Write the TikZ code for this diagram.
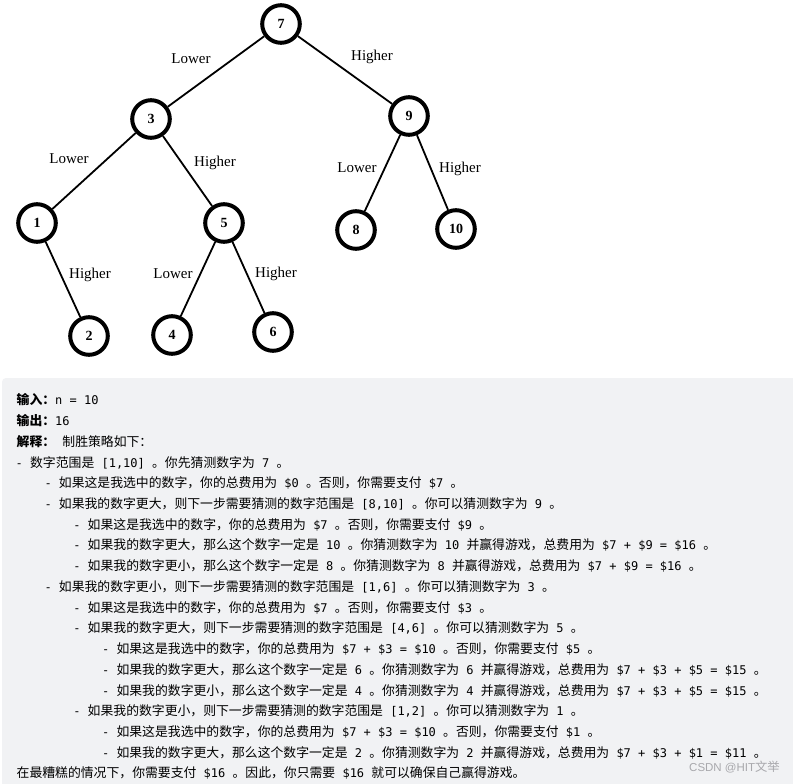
\documentclass[tikz,border=0pt]{standalone}
\usepackage{fontspec}
\setmainfont{Liberation Serif}
\newfontfamily\monof{DejaVu Sans Mono}
\newfontfamily\sansf{Liberation Sans}
\newfontfamily\cjkR[Scale=1.07]{Noto Sans CJK SC}
\newif\ifcjkbold
\def\cjkfont{\cjkR\ifcjkbold\bfseries\fi}
\newXeTeXintercharclass\CJKcls
\newcount\cjkc
\cjkc="4E00
\loop
  \XeTeXcharclass\cjkc=\CJKcls
  \ifnum\cjkc<"9FFF \advance\cjkc by 1
\repeat
\XeTeXcharclass"3002=\CJKcls
\XeTeXcharclass"FF0C=\CJKcls
\XeTeXcharclass"FF1A=\CJKcls
\XeTeXinterchartoks 0 \CJKcls = {\begingroup\cjkfont}
\XeTeXinterchartoks 4095 \CJKcls = {\begingroup\cjkfont}
\XeTeXinterchartoks \CJKcls 0 = {\endgroup}
\XeTeXinterchartoks \CJKcls 4095 = {\endgroup}
\XeTeXinterchartokenstate=1
\definecolor{boxgray}{RGB}{241,242,244}
\definecolor{wmgray}{RGB}{168,168,172}
\tikzset{
  treenode/.style={circle, draw=black, line width=4pt, minimum size=37.6pt, inner sep=0pt,
    font=\fontsize{14}{14}\selectfont\bfseries},
  edge/.style={line width=1.8pt, black},
  elabel/.style={anchor=base, inner sep=0pt, font=\fontsize{15}{15}\selectfont},
  codeline/.style={anchor=base west, inner sep=0pt, font=\monof\fontsize{12}{14}\selectfont},
  wmark/.style={anchor=base, inner sep=0pt, text=wmgray, font=\sansf\fontsize{11.5}{12}\selectfont}
}
\begin{document}
\begin{tikzpicture}[x=1pt,y=-1pt]
\useasboundingbox (0,0) rectangle (793,784);
\fill[white] (0,0) rectangle (793,784);
% tree
\node[treenode] (n7) at (281,24) {7};
\node[treenode] (n3) at (151,119) {3};
\node[treenode] (n9) at (409,116) {9};
\node[treenode] (n1) at (37,223) {1};
\node[treenode] (n5) at (224,223) {5};
\node[treenode] (n8) at (356,230) {8};
\node[treenode] (n10) at (456,229) {10};
\node[treenode] (n2) at (89,336) {2};
\node[treenode] (n4) at (172,335) {4};
\node[treenode] (n6) at (273,332) {6};
\draw[edge] (n7) -- (n3);
\draw[edge] (n7) -- (n9);
\draw[edge] (n3) -- (n1);
\draw[edge] (n3) -- (n5);
\draw[edge] (n9) -- (n8);
\draw[edge] (n9) -- (n10);
\draw[edge] (n1) -- (n2);
\draw[edge] (n5) -- (n4);
\draw[edge] (n5) -- (n6);
\node[elabel] (l73) at (191,63.3) {Lower};
\node[elabel] (l79) at (372,61) {Higher};
\node[elabel] (l31) at (69,163) {Lower};
\node[elabel] (l35) at (215,166.7) {Higher};
\node[elabel] (l98) at (357,172) {Lower};
\node[elabel] (l910) at (460,172) {Higher};
\node[elabel] (l12) at (90,278) {Higher};
\node[elabel] (l54) at (173,278) {Lower};
\node[elabel] (l56) at (276,277) {Higher};
% code box
\fill[boxgray, rounded corners=4pt] (2,378) rectangle (800,790);
\node[codeline] (c0) at (16.5,404.9) {{\cjkboldtrue 输入：}n = 10};
\node[codeline] (c1) at (16.5,425.6) {{\cjkboldtrue 输出：}16};
\node[codeline] (c2) at (16.5,446.3) {{\cjkboldtrue 解释：} 制胜策略如下：};
\node[codeline] (c3) at (15.5,467.1) {- 数字范围是 [1,10] 。你先猜测数字为 7 。};
\node[codeline] (c4) at (44.3,487.8) {- 如果这是我选中的数字，你的总费用为 \$0 。否则，你需要支付 \$7 。};
\node[codeline] (c5) at (44.3,508.5) {- 如果我的数字更大，则下一步需要猜测的数字范围是 [8,10] 。你可以猜测数字为 9 。};
\node[codeline] (c6) at (73.1,529.2) {- 如果这是我选中的数字，你的总费用为 \$7 。否则，你需要支付 \$9 。};
\node[codeline] (c7) at (73.1,549.9) {- 如果我的数字更大，那么这个数字一定是 10 。你猜测数字为 10 并赢得游戏，总费用为 \$7 + \$9 = \$16 。};
\node[codeline] (c8) at (73.1,570.7) {- 如果我的数字更小，那么这个数字一定是 8 。你猜测数字为 8 并赢得游戏，总费用为 \$7 + \$9 = \$16 。};
\node[codeline] (c9) at (44.3,591.4) {- 如果我的数字更小，则下一步需要猜测的数字范围是 [1,6] 。你可以猜测数字为 3 。};
\node[codeline] (c10) at (73.1,612.1) {- 如果这是我选中的数字，你的总费用为 \$7 。否则，你需要支付 \$3 。};
\node[codeline] (c11) at (73.1,632.8) {- 如果我的数字更大，则下一步需要猜测的数字范围是 [4,6] 。你可以猜测数字为 5 。};
\node[codeline] (c12) at (101.9,653.5) {- 如果这是我选中的数字，你的总费用为 \$7 + \$3 = \$10 。否则，你需要支付 \$5 。};
\node[codeline] (c13) at (101.9,674.3) {- 如果我的数字更大，那么这个数字一定是 6 。你猜测数字为 6 并赢得游戏，总费用为 \$7 + \$3 + \$5 = \$15 。};
\node[codeline] (c14) at (101.9,695.0) {- 如果我的数字更小，那么这个数字一定是 4 。你猜测数字为 4 并赢得游戏，总费用为 \$7 + \$3 + \$5 = \$15 。};
\node[codeline] (c15) at (73.1,715.7) {- 如果我的数字更小，则下一步需要猜测的数字范围是 [1,2] 。你可以猜测数字为 1 。};
\node[codeline] (c16) at (101.9,736.4) {- 如果这是我选中的数字，你的总费用为 \$7 + \$3 = \$10 。否则，你需要支付 \$1 。};
\node[codeline] (c17) at (101.9,757.1) {- 如果我的数字更大，那么这个数字一定是 2 。你猜测数字为 2 并赢得游戏，总费用为 \$7 + \$3 + \$1 = \$11 。};
\node[codeline] (c18) at (16.5,777.9) {在最糟糕的情况下，你需要支付 \$16 。因此，你只需要 \$16 就可以确保自己赢得游戏。};
\node[wmark] (wm) at (734.5,771) {CSDN @HIT文举};
\end{tikzpicture}
\end{document}
